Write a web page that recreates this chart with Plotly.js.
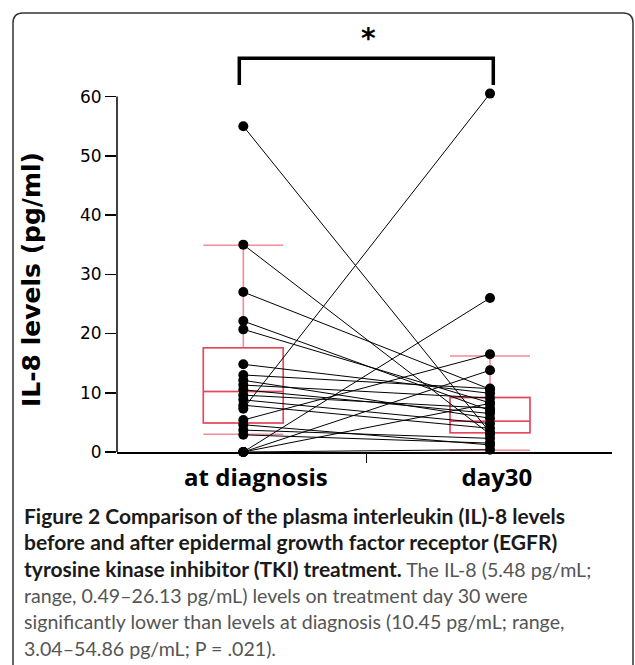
<!DOCTYPE html>
<html>
<head>
<meta charset="utf-8">
<script src="https://cdn.plot.ly/plotly-3.0.1.min.js"></script>
<style>
  html, body { margin: 0; padding: 0; background: #ffffff; }
  #chart { width: 635px; height: 665px; }
</style>
</head>
<body>
<div id="chart"></div>
<script>
// ---- data ----
const categories = ['at diagnosis', 'day30'];
const atDiagnosis = [55.0, 35.0, 27.0, 22.1, 20.7, 14.8, 13.0, 12.1, 11.3, 10.5, 9.6, 8.8, 7.9, 7.3, 5.4, 4.6, 3.7, 2.9, 0, 0, 0, 0];
const day30      = [3.3, 3.0, 10.6, 7.0, 8.3, 9.9, 10.7, 5.7, 9.1, 6.5, 7.4, 4.8, 4.0, 60.5, 16.5, 1.2, 2.3, 1.5, 26.0, 13.8, 8.2, 0.4];
const boxQ1      = [4.9, 3.25];
const boxMedian  = [10.2, 5.2];
const boxQ3      = [17.6, 9.2];
const boxLower   = [3.0, 0.3];
const boxUpper   = [34.9, 16.2];
const yTicks     = [0, 10, 20, 30, 40, 50, 60];
const yTitle     = 'IL-8 levels (pg/ml)';
const significance = '*';
const B = t => '<span style="font-size:21px;font-weight:bold;fill:#1a1a1a">' + t + '</span>';
const captionLines = [
  B('Figure 2 Comparison of the plasma interleukin (IL)-8 levels'),
  B('before and after epidermal growth factor receptor (EGFR)'),
  B('tyrosine kinase inhibitor (TKI) treatment.') + ' The IL-8 (5.48 pg/mL;',
  'range, 0.49–26.13 pg/mL) levels on treatment day 30 were',
  'significantly lower than levels at diagnosis (10.45 pg/mL; range,',
  '3.04–54.86 pg/mL; P = .021).'
];

// ---- geometry helpers (pixel -> paper) ----
const W = 635, H = 665;
const M = {l: 117, r: 23, t: 93, b: 213};
const PW = W - M.l - M.r, PH = H - M.t - M.b;
const px = x => (x - M.l) / PW;
const py = y => (H - M.b - y) / PH;

const catX = categories.map((c, i) => i);

// connecting lines
const lx = [], ly = [];
atDiagnosis.forEach((v, i) => { lx.push(catX[0], catX[1], null); ly.push(v, day30[i], null); });

const traces = [
  { type: 'box', x: catX, q1: boxQ1, median: boxMedian, q3: boxQ3,
    lowerfence: boxLower, upperfence: boxUpper, width: 0.324, whiskerwidth: 1,
    boxpoints: false, line: {color: '#f28c9b', width: 1.6}, fillcolor: 'rgba(0,0,0,0)',
    hoverinfo: 'skip', showlegend: false },
  { type: 'box', x: catX, q1: boxQ1, median: boxMedian, q3: boxQ3,
    lowerfence: boxQ1, upperfence: boxQ3, width: 0.324, whiskerwidth: 1,
    boxpoints: false, line: {color: '#e4465b', width: 1.4}, fillcolor: 'rgba(0,0,0,0)',
    hoverinfo: 'skip', showlegend: false },
  { type: 'scatter', mode: 'lines', x: lx, y: ly, line: {color: '#000', width: 1},
    hoverinfo: 'skip', showlegend: false, cliponaxis: false },
  { type: 'scatter', mode: 'markers',
    x: atDiagnosis.map(() => catX[0]).concat(day30.map(() => catX[1])),
    y: atDiagnosis.concat(day30),
    marker: {color: '#000', size: 10}, cliponaxis: false, hoverinfo: 'skip', showlegend: false }
];

const frameL = px(13), frameR = px(633), frameT = py(13), frameB = py(680);
const rx = 10 / PW, ry = 10 / PH;
const framePath = `M ${frameL},${frameB} L ${frameL},${frameT - ry} Q ${frameL},${frameT} ${frameL + rx},${frameT} ` +
  `L ${frameR - rx},${frameT} Q ${frameR},${frameT} ${frameR},${frameT - ry} L ${frameR},${frameB}`;
const bL = px(239.3), bR = px(493.3), bT = py(58.3), bB = py(85);
const bracketPath = `M ${bL},${bB} L ${bL},${bT} L ${bR},${bT} L ${bR},${bB}`;

const captionY = [515, 541.7, 568.3, 595, 621.7, 648.3];
const annotations = captionLines.map((t, i) => ({
  xref: 'paper', yref: 'paper', x: px(22), y: py(captionY[i]), xanchor: 'left', yanchor: 'middle',
  text: t, showarrow: false, align: 'left',
  font: {family: 'Lato', size: 19.6, color: '#555555'}
}));
annotations.push({
  xref: 'paper', yref: 'paper', x: px(368), y: py(38), text: significance, showarrow: false,
  xanchor: 'center', yanchor: 'middle',
  font: {family: 'DejaVu Sans', size: 28, weight: 'bold', color: '#000'}
});
annotations.push({
  xref: 'paper', yref: 'paper', x: px(31), y: py(280), text: yTitle, showarrow: false, textangle: -90,
  xanchor: 'center', yanchor: 'middle',
  font: {family: 'DejaVu Sans', size: 25, weight: 'bold', color: '#000'}
});

const layout = {
  width: W, height: H,
  margin: M,
  paper_bgcolor: '#fff', plot_bgcolor: '#fff',
  boxmode: 'overlay',
  showlegend: false,
  xaxis: {
    range: [-0.512, 1.4945], zeroline: false, showgrid: false,
    showline: true, linecolor: '#000', linewidth: 1.5,
    tickmode: 'array', tickvals: [0.051, 1.028], ticktext: categories,
    ticks: '', ticklabelstandoff: 4,
    tickfont: {family: 'Open Sans', size: 24, weight: 'bold', color: '#000'},
    minor: {tickmode: 'array', tickvals: [0.5], ticks: 'outside', ticklen: 9, tickwidth: 1.5, tickcolor: '#000', showgrid: false}
  },
  yaxis: {
    range: [0, 60.6], zeroline: false, showgrid: false,
    showline: false,
    tickmode: 'array', tickvals: yTicks,
    ticks: 'outside', ticklen: 11, tickwidth: 1.5, tickcolor: '#000',
    tickfont: {family: 'DejaVu Sans', size: 17, color: '#000'}
  },
  shapes: [
    { type: 'path', xref: 'paper', yref: 'paper', path: framePath, line: {color: '#333', width: 1.5} },
    { type: 'line', xref: 'paper', yref: 'paper', x0: 0, x1: 0, y0: py(452), y1: py(96.6),
      line: {color: '#000', width: 1.5} },
    { type: 'path', xref: 'paper', yref: 'paper', path: bracketPath, line: {color: '#000', width: 3.5} }
  ],
  annotations: annotations
};

Plotly.newPlot('chart', traces, layout, {staticPlot: true, displayModeBar: false});
</script>
</body>
</html>
